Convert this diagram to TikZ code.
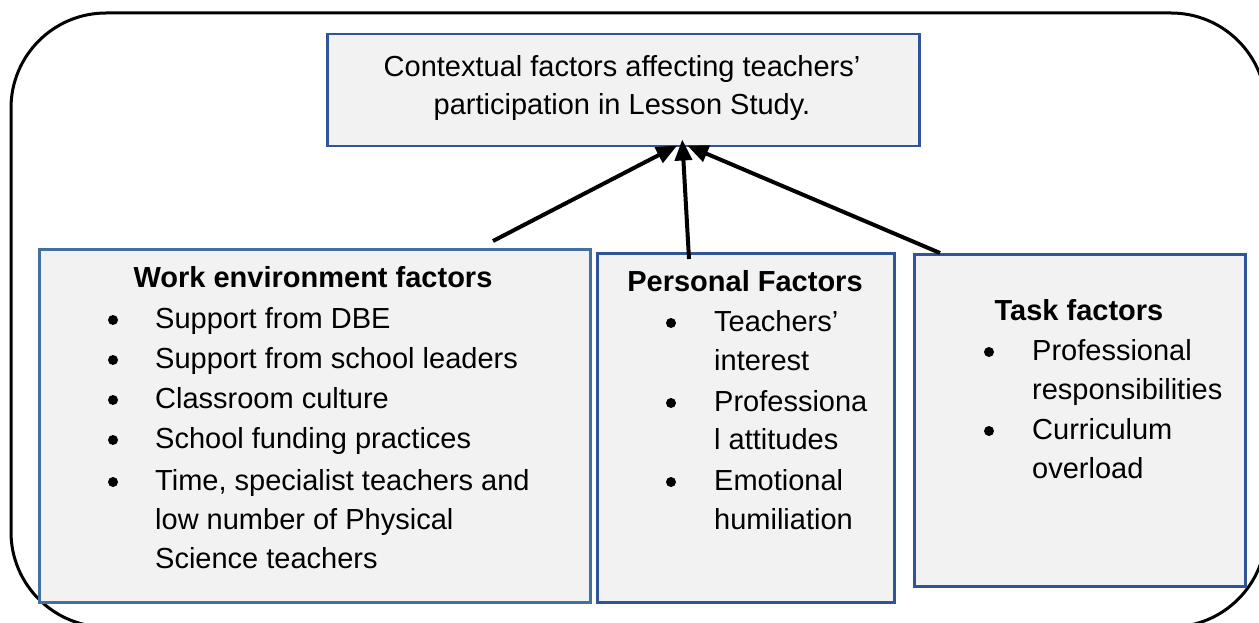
\documentclass[tikz,border=0pt]{standalone}
\usepackage{fontspec}
\setmainfont{Liberation Sans}
\usetikzlibrary{arrows.meta,calc}
\definecolor{boxblue}{HTML}{2F5597}
\definecolor{boxblueL}{HTML}{41719C}
\definecolor{boxfill}{HTML}{F2F2F2}
\begin{document}
\begin{tikzpicture}[x=1pt,y=-1pt,
  box/.style={draw=boxblue,fill=boxfill,line width=2.5pt,inner sep=0pt,anchor=north west},
  txt/.style={inner sep=0pt,anchor=base,font=\fontsize{29}{40}\selectfont},
  ltxt/.style={txt,anchor=base west},
  hdr/.style={inner sep=0pt,anchor=base,font=\fontsize{29}{40}\selectfont\bfseries},
  arr/.style={line width=4pt,-{Triangle[length=21pt,width=17pt]}}]
\useasboundingbox (0,0) rectangle (1259,623);
% outer frame
\draw[line width=3pt,rounded corners=95pt] (11,13) rectangle (1266,627);
% boxes
\node[box,minimum width=592pt,minimum height=112pt] (top) at (326,33) {};
\node[box,draw=boxblueL,minimum width=551pt,minimum height=353pt] (work) at (38,248) {};
\node[box,minimum width=297pt,minimum height=349pt] (pers) at (596,252) {};
\node[box,minimum width=331pt,minimum height=332pt] (task) at (913,253) {};
% top text
\node[txt] (t1) at (622,77) {Contextual factors affecting teachers’};
\node[txt] (t2) at (622,115) {participation in Lesson Study.};
% work environment
\node[hdr] (wh) at (313,287) {Work environment factors};
\foreach \y/\s [count=\i] in {328/Support from DBE,368/Support from school leaders,408/Classroom culture,448/School funding practices,490/{Time, specialist teachers and}}{
  \fill (113,\y-8) circle (5pt);
  \node[ltxt] (w\i) at (155,\y) {\s};
}
\node[ltxt] (w6) at (155,529) {low number of Physical};
\node[ltxt] (w7) at (155,568) {Science teachers};
% personal
\node[hdr] (ph) at (745,291) {Personal Factors};
\foreach \y in {331,411,490}{\fill (671,\y-8) circle (5pt);}
\node[ltxt] (p1) at (714,331) {Teachers’};
\node[ltxt] (p2) at (714,370) {interest};
\node[ltxt] (p3) at (714,411) {Professiona};
\node[ltxt] (p4) at (714,449) {l attitudes};
\node[ltxt] (p5) at (714,490) {Emotional};
\node[ltxt] (p6) at (714,529) {humiliation};
% task
\node[hdr] (kh) at (1079,320) {Task factors};
\foreach \y in {360,439}{\fill (989,\y-8) circle (5pt);}
\node[ltxt] (k1) at (1032,360) {Professional};
\node[ltxt] (k2) at (1032,399) {responsibilities};
\node[ltxt] (k3) at (1032,439) {Curriculum};
\node[ltxt] (k4) at (1032,478) {overload};
% arrows
\coordinate (ws) at (493,241);
\coordinate (ps) at (689,259);
\coordinate (ks) at (940,253);
\draw[arr] (ws) -- ($(top.south)+(54,-2)$);
\draw[arr] (ps) -- ($(top.south)+(59,-8)$);
\draw[arr] (ks) -- ($(top.south)+(64,-2)$);
\end{tikzpicture}
\end{document}
